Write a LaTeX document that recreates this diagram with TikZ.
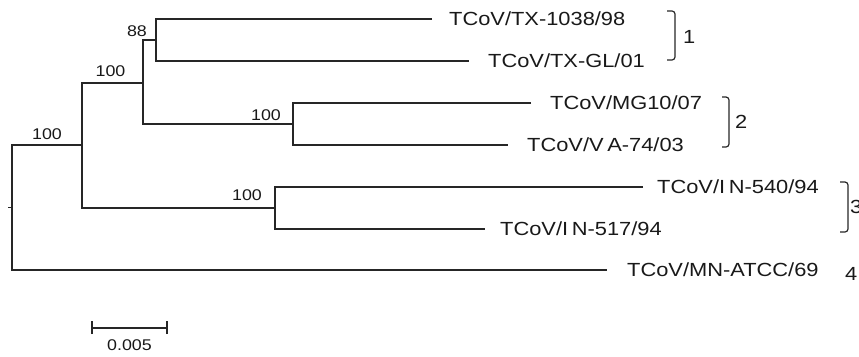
\documentclass[tikz,border=0pt]{standalone}
\usepackage{fontspec}
\setmainfont{Liberation Sans}
\newcommand\hsq[1]{\scalebox{1.15}[1]{#1}}
\begin{document}
\begin{tikzpicture}[x=1pt,y=-1pt,
  br/.style={line width=1.4pt, draw=black!85, line join=miter},
  leaf/.style={anchor=west, inner sep=0pt, text=black!90, font=\fontsize{19}{22}\selectfont, text height=13.6pt, text depth=0pt},
  boot/.style={inner sep=0pt, text=black!90, font=\fontsize{15.5}{18}\selectfont, text height=11.1pt, text depth=0pt},
  grp/.style={inner sep=0pt, text=black!90, font=\fontsize{19}{22}\selectfont, text height=13.6pt, text depth=0pt},
  brk/.style={line width=1.2pt, draw=black!85, rounded corners=3pt}]
\useasboundingbox (0,0) rectangle (859,356);

% internal nodes
\coordinate (R) at (12,207.5);
\coordinate (A) at (82,145);
\coordinate (B) at (143,83);
\coordinate (C) at (156,40);
\coordinate (D) at (293,124);
\coordinate (E) at (275,208);
\coordinate (stub) at (8,207.5);

% branch tips
\coordinate (t1) at (432,19);
\coordinate (t2) at (469,61);
\coordinate (t3) at (531,103);
\coordinate (t4) at (508,145);
\coordinate (t5) at (643,187);
\coordinate (t6) at (485,229);
\coordinate (t7) at (607,270);

% leaf labels
\node[leaf] (l1) at (449,19) {\hsq{TCoV/TX-1038/98}};
\node[leaf] (l2) at (488,61) {\hsq{TCoV/TX-GL/01}};
\node[leaf] (l3) at (550,103) {\hsq{TCoV/MG10/07}};
\node[leaf] (l4) at (527,145) {\hsq{TCoV/V\,A-74/03}};
\node[leaf] (l5) at (657,187) {\hsq{TCoV/I\,N-540/94}};
\node[leaf] (l6) at (500,229) {\hsq{TCoV/I\,N-517/94}};
\node[leaf] (l7) at (627,270) {\hsq{TCoV/MN-ATCC/69}};

% tree
\draw[br] (stub) -- (R);
\draw[br] (A) -| (R) |- (t7);
\draw[br] (B) -| (A) |- (E);
\draw[br] (C) -| (B) |- (D);
\draw[br] (t1) -| (C) |- (t2);
\draw[br] (t3) -| (D) |- (t4);
\draw[br] (t5) -| (E) |- (t6);

% bootstrap values
\node[boot] (b0) at (47,134) {\hsq{100}};
\node[boot] (b1) at (110.5,71) {\hsq{100}};
\node[boot] (b2) at (137,30.5) {\hsq{88}};
\node[boot] (b3) at (266,114.5) {\hsq{100}};
\node[boot] (b4) at (247,195) {\hsq{100}};

% group brackets
\draw[brk] (667,11) -- (675,11) -- (675,60) -- (667,60);
\draw[brk] (722,97) -- (729,97) -- (729,147) -- (722,147);
\draw[brk] (840,182) -- (848,182) -- (848,232) -- (840,232);
\node[grp, anchor=west] (g1) at (683,37) {\hsq{1}};
\node[grp, anchor=west] (g2) at (735,122) {\hsq{2}};
\node[grp, anchor=west] (g3) at (850,207) {\hsq{3}};
\node[grp, anchor=west] (g4) at (845,274) {\hsq{4}};

% scale bar
\coordinate (s1) at (92,328);
\coordinate (s2) at (167,328);
\draw[line width=1.3pt, draw=black!85] (s1) -- (s2);
\draw[line width=1.3pt, draw=black!85] ([yshift=-6pt]s1) -- ([yshift=7pt]s1);
\draw[line width=1.3pt, draw=black!85] ([yshift=-6pt]s2) -- ([yshift=7pt]s2);
\node[boot] (sl) at (129.5,345) {\hsq{0.005}};
\end{tikzpicture}
\end{document}
